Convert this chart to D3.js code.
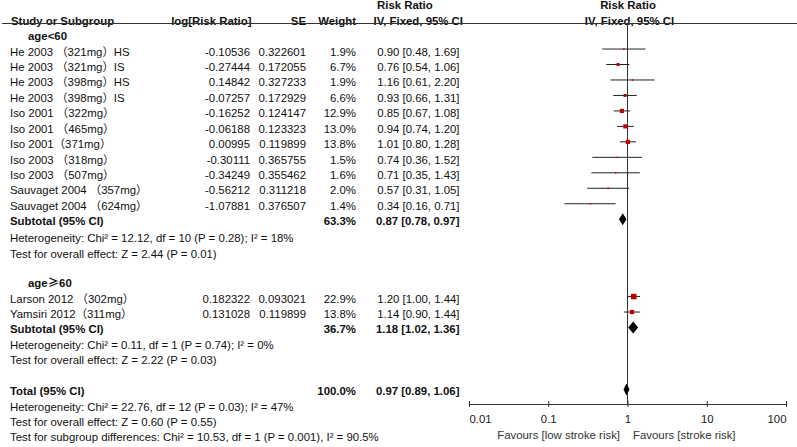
<!DOCTYPE html>
<html>
<head>
<meta charset="utf-8">
<script src="https://cdn.jsdelivr.net/npm/d3@7/dist/d3.min.js"></script>
<style>
  html, body { margin: 0; padding: 0; background: #fff; }
  svg text { font-family: "Liberation Sans", Arial, "Noto Sans CJK SC", sans-serif; font-size: 11.4px; fill: #111; }
  .b { font-weight: bold; }
</style>
</head>
<body>
<svg id="chart" width="797" height="447"></svg>
<script>
// ---------- data ----------
const studies = [
  "He 2003 （321mg）HS", "He 2003 （321mg）IS", "He 2003 （398mg）HS", "He 2003 （398mg）IS",
  "Iso 2001 （322mg）", "Iso 2001 （465mg）", "Iso 2001（371mg）", "Iso 2003 （318mg）",
  "Iso 2003 （507mg）", "Sauvaget 2004 （357mg）", "Sauvaget 2004 （624mg）",
  "Larson 2012 （302mg）", "Yamsiri 2012（311mg）"
];
const studyRows = [2,3,4,5,6,7,8,9,10,11,12,18,19];
const logRR = ["-0.10536","-0.27444","0.14842","-0.07257","-0.16252","-0.06188","0.00995","-0.30111","-0.34249","-0.56212","-1.07881","0.182322","0.131028"];
const seVals = ["0.322601","0.172055","0.327233","0.172929","0.124147","0.123323","0.119899","0.365755","0.355462","0.311218","0.376507","0.093021","0.119899"];
const weights = [1.9, 6.7, 1.9, 6.6, 12.9, 13.0, 13.8, 1.5, 1.6, 2.0, 1.4, 22.9, 13.8];
const rr = [0.90, 0.76, 1.16, 0.93, 0.85, 0.94, 1.01, 0.74, 0.71, 0.57, 0.34, 1.20, 1.14];
const lower = [0.48, 0.54, 0.61, 0.66, 0.67, 0.74, 0.80, 0.36, 0.35, 0.31, 0.16, 1.00, 0.90];
const upper = [1.69, 1.06, 2.20, 1.31, 1.08, 1.20, 1.28, 1.52, 1.43, 1.05, 0.71, 1.44, 1.44];

const pooledLabels = ["Subtotal (95% CI)", "Subtotal (95% CI)", "Total (95% CI)"];
const pooledRows = [13, 20, 24];
const pooledWeights = ["63.3%", "36.7%", "100.0%"];
const pooledRR = [0.87, 1.18, 0.97];
const pooledLower = [0.78, 1.02, 0.89];
const pooledUpper = [0.97, 1.36, 1.06];

const groupPrefix = ["age", "age"];
const groupSymbol = ["<", "≥"];
const groupSuffix = ["60", "60"];
const groupRows = [1, 17];

const noteTexts = [
  "Heterogeneity: Chi² = 12.12, df = 10 (P = 0.28); I² = 18%",
  "Test for overall effect: Z = 2.44 (P = 0.01)",
  "Heterogeneity: Chi² = 0.11, df = 1 (P = 0.74); I² = 0%",
  "Test for overall effect: Z = 2.22 (P = 0.03)",
  "Heterogeneity: Chi² = 22.76, df = 12 (P = 0.03); I² = 47%",
  "Test for overall effect: Z = 0.60 (P = 0.55)",
  "Test for subgroup differences: Chi² = 10.53, df = 1 (P = 0.001), I² = 90.5%"
];
const noteRows = [14.1, 15.1, 21, 22, 25, 26, 27];

const tickValues = [0.01, 0.1, 1, 10, 100];
const tickLabels = ["0.01", "0.1", "1", "10", "100"];
const favourLeft = "Favours [low stroke risk]";
const favourRight = "Favours [stroke risk]";

// ---------- scales ----------
const svg = d3.select("#chart");
const x = d3.scaleLog().domain([0.01, 100]).range([469, 786]);
const textY = d3.scaleLinear().domain([0, 27]).range([21, 437.8]);
const markY = d3.scaleLinear().domain([0, 27]).range([18.1, 435.8]);
const side = d3.scaleSqrt().domain([0, 100]).range([0, 11.5]);
const fmt2 = d3.format(".2f");
const ciText = (m, l, u) => `${fmt2(m)} [${fmt2(l)}, ${fmt2(u)}]`;

// ---------- header ----------
const hdr = svg.append("g").attr("class", "b");
hdr.append("text").attr("x", 11).attr("y", textY(0)).attr("dy", "0.32em").text("Study or Subgroup");
hdr.append("text").attr("x", 251.5).attr("y", textY(0)).attr("dy", "0.32em").attr("text-anchor", "end").text("log[Risk Ratio]");
hdr.append("text").attr("x", 306).attr("y", textY(0)).attr("dy", "0.32em").attr("text-anchor", "end").text("SE");
hdr.append("text").attr("x", 356).attr("y", textY(0)).attr("dy", "0.32em").attr("text-anchor", "end").text("Weight");
hdr.append("text").attr("x", 377).attr("y", 5).attr("dy", "0.32em").text("Risk Ratio");
hdr.append("text").attr("x", 463).attr("y", textY(0)).attr("dy", "0.32em").attr("text-anchor", "end").text("IV, Fixed, 95% CI");
hdr.append("text").attr("x", 628).attr("y", 5).attr("dy", "0.32em").attr("text-anchor", "middle").text("Risk Ratio");
hdr.append("text").attr("x", 629.5).attr("y", textY(0)).attr("dy", "0.32em").attr("text-anchor", "middle").text("IV, Fixed, 95% CI");

svg.append("line").attr("x1", 2).attr("x2", 797).attr("y1", 23.5).attr("y2", 23.5)
  .attr("stroke", "#333").attr("stroke-width", 1);

// ---------- group labels ----------
const gl = svg.append("g").selectAll("text").data(groupPrefix).join("text")
  .attr("class", "b").attr("x", 28).attr("y", (d, i) => textY(groupRows[i])).attr("dy", "0.32em");
gl.append("tspan").text(d => d);
gl.append("tspan").style("font-family", (d, i) => i === 1 ? '"Noto Sans CJK SC", sans-serif' : null)
  .text((d, i) => groupSymbol[i]);
gl.append("tspan").text((d, i) => groupSuffix[i]);

// ---------- study rows ----------
const rows = svg.append("g").selectAll("g").data(studies).join("g");
rows.append("text").attr("x", 10).attr("y", (d, i) => textY(studyRows[i])).attr("dy", "0.32em").text(d => d);
rows.append("text").attr("x", 250).attr("text-anchor", "end").attr("y", (d, i) => textY(studyRows[i])).attr("dy", "0.32em").text((d, i) => logRR[i]);
rows.append("text").attr("x", 306).attr("text-anchor", "end").attr("y", (d, i) => textY(studyRows[i])).attr("dy", "0.32em").text((d, i) => seVals[i]);
rows.append("text").attr("x", 356).attr("text-anchor", "end").attr("y", (d, i) => textY(studyRows[i])).attr("dy", "0.32em").text((d, i) => weights[i].toFixed(1) + "%");
rows.append("text").attr("x", 459.5).attr("text-anchor", "end").attr("y", (d, i) => textY(studyRows[i])).attr("dy", "0.32em").text((d, i) => ciText(rr[i], lower[i], upper[i]));

// ---------- pooled rows ----------
const pool = svg.append("g").selectAll("g").data(pooledLabels).join("g").attr("class", "b");
pool.append("text").attr("x", 10).attr("y", (d, i) => textY(pooledRows[i])).attr("dy", "0.32em").text(d => d);
pool.append("text").attr("x", 356).attr("text-anchor", "end").attr("y", (d, i) => textY(pooledRows[i])).attr("dy", "0.32em").text((d, i) => pooledWeights[i]);
pool.append("text").attr("x", 459.5).attr("text-anchor", "end").attr("y", (d, i) => textY(pooledRows[i])).attr("dy", "0.32em").text((d, i) => ciText(pooledRR[i], pooledLower[i], pooledUpper[i]));

// ---------- notes ----------
svg.append("g").selectAll("text").data(noteTexts).join("text")
  .attr("x", 10).attr("y", (d, i) => textY(noteRows[i])).attr("dy", "0.32em").text(d => d);

// ---------- plot ----------
const axisY = 404;
svg.append("line").attr("x1", x(1)).attr("x2", x(1)).attr("y1", 23.5).attr("y2", axisY)
  .attr("stroke", "#333").attr("stroke-width", 1);

const plot = svg.append("g");
plot.selectAll("line.ci").data(studies).join("line").attr("class", "ci")
  .attr("x1", (d, i) => x(lower[i])).attr("x2", (d, i) => x(upper[i]))
  .attr("y1", (d, i) => markY(studyRows[i])).attr("y2", (d, i) => markY(studyRows[i]))
  .attr("stroke", "#222").attr("stroke-width", 1);
plot.selectAll("rect.pt").data(studies).join("rect").attr("class", "pt")
  .attr("x", (d, i) => x(rr[i]) - side(weights[i]) / 2)
  .attr("y", (d, i) => markY(studyRows[i]) - side(weights[i]) / 2)
  .attr("width", (d, i) => side(weights[i]))
  .attr("height", (d, i) => side(weights[i]))
  .attr("fill", "#c00000");

plot.selectAll("path.dia").data(pooledLabels).join("path").attr("class", "dia")
  .attr("d", (d, i) => {
    const yc = markY(pooledRows[i]), h = 6;
    return `M${x(pooledLower[i])},${yc}L${x(pooledRR[i])},${yc - h}L${x(pooledUpper[i])},${yc}L${x(pooledRR[i])},${yc + h}Z`;
  })
  .attr("fill", "#000");

// ---------- axis ----------
const axis = d3.axisBottom(x).tickValues(tickValues).tickFormat((d, i) => tickLabels[i])
  .tickSizeInner(3).tickSizeOuter(0).tickPadding(8);
const ag = svg.append("g").attr("transform", `translate(0,${axisY})`).call(axis);
ag.select(".domain").attr("stroke", "#333");
ag.selectAll(".tick line").attr("y1", -3).attr("y2", 3).attr("stroke", "#333");
ag.selectAll(".tick text")
  .attr("text-anchor", (d, i) => i === 0 ? "start" : (i === tickValues.length - 1 ? "end" : "middle"))
  .style("fill", "#222");
ag.attr("font-size", null).attr("font-family", null);

svg.append("text").attr("x", 620).attr("y", 435).attr("dy", "0.32em").attr("text-anchor", "end").style("fill", "#333").text(favourLeft);
svg.append("text").attr("x", 633).attr("y", 435).attr("dy", "0.32em").style("fill", "#333").text(favourRight);
</script>
</body>
</html>
